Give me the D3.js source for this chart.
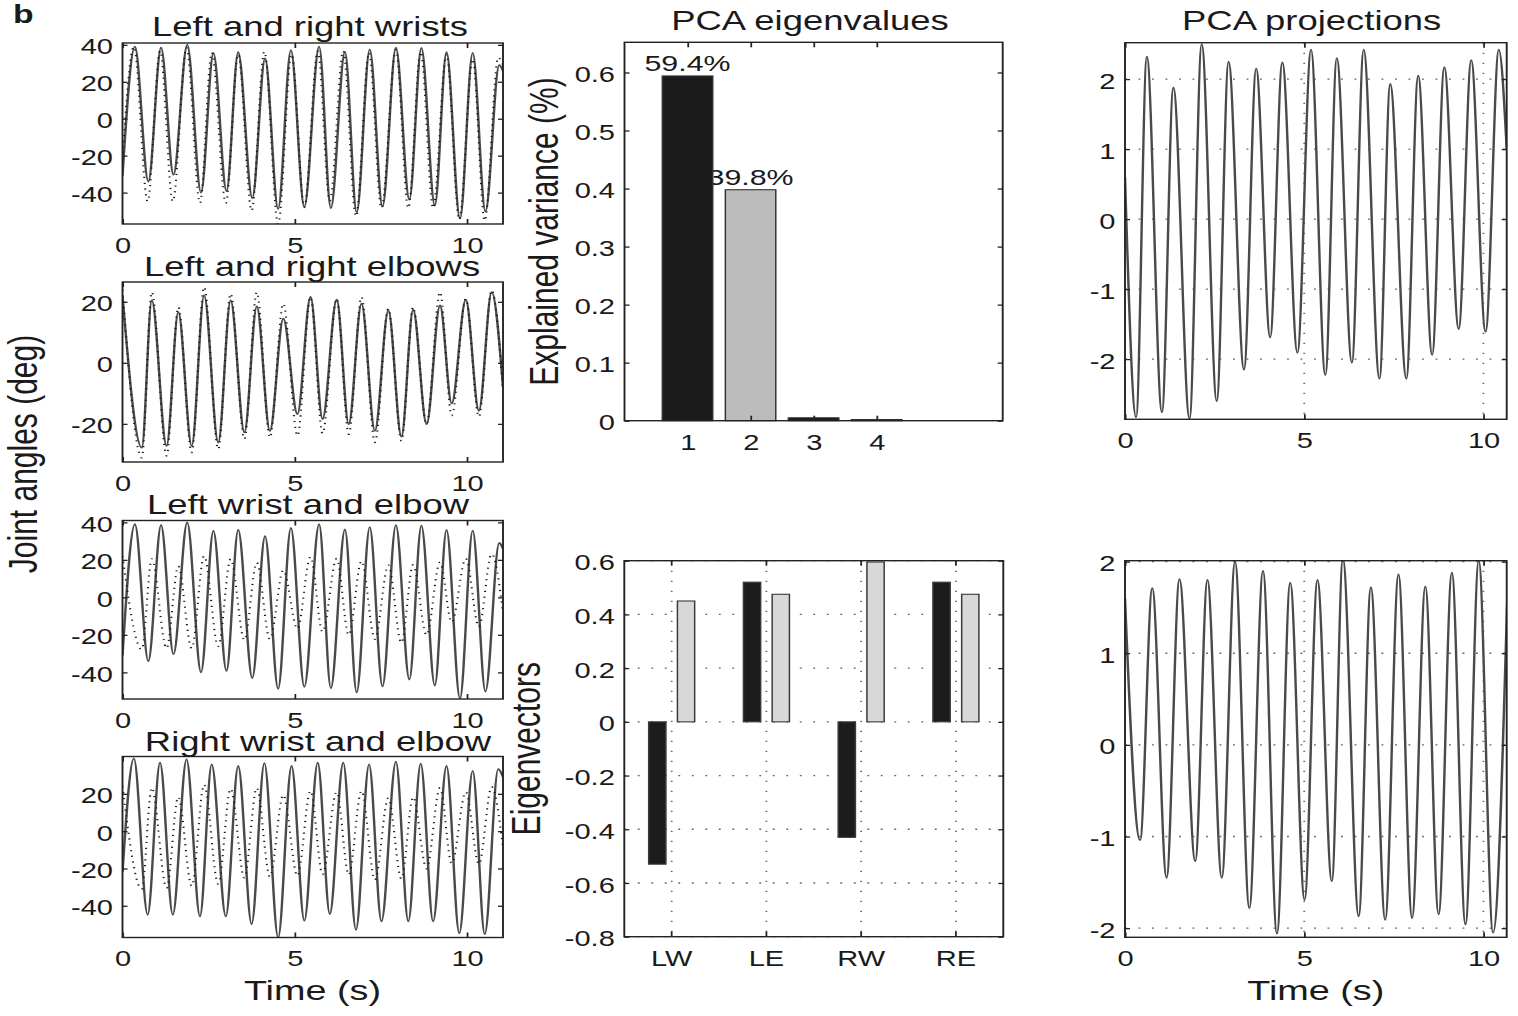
<!DOCTYPE html>
<html>
<head>
<meta charset="utf-8">
<title>Joint angles and PCA</title>
<script src="https://cdn.jsdelivr.net/npm/d3@7/dist/d3.min.js"></script>
<style>
	body { margin: 0; background: #fff; }
	svg { display: block; }
	text { font-family: "Liberation Sans", Arial, Helvetica, sans-serif; fill: #1a1a1a; }
</style>
</head>
<body>
<script>
// joint angles (deg), turning points: [time (s), angle]
var leftWrist = [[0, -31], [0.36, 39], [0.75, -34], [1.12, 38.5], [1.48, -30.3], [1.88, 40], [2.28, -40], [2.64, 35.5],
	[3.02, -39.2], [3.36, 36], [3.77, -43], [4.14, 32.6], [4.52, -48.8], [4.89, 37.1], [5.28, -47.7], [5.71, 39],
	[6.05, -48.4], [6.46, 36.2], [6.8, -50.7], [7.18, 37.5], [7.55, -47.5], [7.94, 38.5], [8.33, -43.8], [8.68, 38.3],
	[9.07, -47], [9.41, 36], [9.8, -54], [10.17, 35.6], [10.54, -50.2], [10.94, 29], [11.05, 26]];
var rightWrist = [[0, -22], [0.33, 39], [0.73, -44.8], [1.09, 36.7], [1.46, -44.8], [1.86, 38.5], [2.25, -45.7], [2.59, 35.8],
	[3.0, -45.7], [3.36, 34.9], [3.75, -49.8], [4.12, 36.4], [4.52, -57], [4.91, 34.9], [5.28, -48], [5.67, 36.7],
	[6.02, -44.4], [6.41, 36.7], [6.78, -52.9], [7.16, 35.8], [7.52, -48.4], [7.94, 37.3], [8.3, -48.4], [8.66, 36.2],
	[9.02, -48.4], [9.41, 34.9], [9.78, -54.7], [10.17, 32.3], [10.52, -55.2], [10.91, 33.2], [11.05, 29]];
var leftElbow = [[0, 22], [0.56, -27.8], [0.85, 20.5], [1.28, -27.2], [1.62, 16.6], [2.01, -27.2], [2.37, 22.1], [2.78, -26.1],
	[3.14, 20.5], [3.54, -22.8], [3.9, 18.5], [4.28, -22.3], [4.67, 14.5], [5.08, -16.8], [5.46, 21.6], [5.81, -18.4],
	[6.22, 20.7], [6.57, -20.1], [6.94, 19.4], [7.33, -22.3], [7.72, 17.2], [8.1, -24.2], [8.44, 17.4], [8.83, -20.1],
	[9.22, 18.8], [9.56, -13.3], [9.97, 20.7], [10.35, -15.7], [10.72, 23.2], [11.05, -8]];
var rightElbow = [[0, 24], [0.56, -31.1], [0.85, 23.2], [1.28, -30.5], [1.62, 18.3], [2.01, -29.4], [2.37, 24.9], [2.78, -28.3],
	[3.14, 22.7], [3.54, -25], [3.9, 23.2], [4.28, -24.5], [4.67, 19.4], [5.08, -23.9], [5.46, 21.6], [5.81, -23.2],
	[6.22, 21], [6.57, -23.4], [6.94, 21.6], [7.33, -26.1], [7.72, 17.8], [8.1, -25.6], [8.44, 18.3], [8.83, -20.1],
	[9.22, 23.2], [9.56, -17.3], [9.97, 21], [10.35, -17.7], [10.72, 23.8], [11.05, -9]];

// PCA
var pcaComponents = [1, 2, 3, 4];
var pcaExplained = [0.594, 0.398, 0.005, 0.002];
var jointNames = ["LW", "LE", "RW", "RE"];
var eigvec1 = [-0.53, 0.52, -0.43, 0.52];
var eigvec2 = [0.45, 0.475, 0.595, 0.475];
var projection1 = [[0, 0.6], [0.31, -2.83], [0.61, 2.32], [1.03, -2.76], [1.35, 1.88], [1.8, -2.85], [2.14, 2.5], [2.56, -2.6],
	[2.89, 2.25], [3.32, -2.15], [3.66, 2.15], [4.05, -1.69], [4.39, 2.24], [4.81, -1.91], [5.19, 2.42], [5.59, -2.23],
	[5.91, 2.3], [6.33, -2.05], [6.66, 2.42], [7.1, -2.28], [7.4, 1.93], [7.85, -2.28], [8.18, 2.05], [8.57, -1.94],
	[8.91, 2.17], [9.31, -1.57], [9.66, 2.27], [10.06, -1.61], [10.43, 2.42], [10.65, 1.0]];
var projection2 = [[0, 1.6], [0.42, -1.04], [0.76, 1.71], [1.16, -1.45], [1.52, 1.81], [1.96, -1.27], [2.3, 1.8], [2.7, -1.45],
	[3.07, 2.0], [3.47, -1.78], [3.85, 1.9], [4.24, -2.06], [4.61, 1.77], [5.01, -1.69], [5.37, 1.8], [5.77, -1.49],
	[6.08, 2.03], [6.52, -1.87], [6.86, 1.72], [7.26, -1.91], [7.63, 1.86], [8.01, -1.89], [8.38, 1.73], [8.75, -1.85],
	[9.12, 1.88], [9.5, -1.96], [9.87, 2.01], [10.27, -2.05], [10.66, 1.53]];

// ticks
var timeTicks = [0, 5, 10];
var pcaTicks = [0, 0.1, 0.2, 0.3, 0.4, 0.5, 0.6];
var eigTicks = [-0.8, -0.6, -0.4, -0.2, 0, 0.2, 0.4, 0.6];
var projTicks = [-2, -1, 0, 1, 2];

// the whole figure is stretched sideways, so draw in a narrower space and let the viewBox widen it
var SX = 1.35;
var W = 1518, H = 1016;
function px(v) { return v / SX; }

var svg = d3.select("body").append("svg")
	.attr("width", W).attr("height", H)
	.attr("viewBox", "0 0 " + px(W) + " " + H)
	.attr("preserveAspectRatio", "none");
var defs = svg.append("defs");

var fmt = function(d) { return String(d); };

function addClip(id, x, y) {
	defs.append("clipPath").attr("id", "clip_" + id).append("rect")
		.attr("x", x.range()[0]).attr("y", y.range()[1])
		.attr("width", x.range()[1] - x.range()[0]).attr("height", y.range()[0] - y.range()[1]);
	return "url(#clip_" + id + ")";
}

function addText(txt, x, y, size, opts) {
	opts = opts || {};
	var t = svg.append("text").text(txt).attr("font-size", size).attr("text-anchor", opts.anchor || "middle");
	if (opts.rotate) {
		t.attr("transform", "translate(" + px(x) + "," + y + ") rotate(-90)");
	} else {
		t.attr("x", px(x)).attr("y", y);
	}
	if (opts.bold) t.attr("font-weight", "bold");
	return t;
}

function drawAxes(g, x, y, xTicks, yTicks) {
	var tick = 5;
	var x0 = d3.min(x.range()), x1 = d3.max(x.range());
	var b = g.append("g").attr("transform", "translate(0," + y.range()[0] + ")")
		.call((xTicks ? d3.axisBottom(x).tickValues(xTicks) : d3.axisBottom(x)).tickSize(-tick).tickFormat(xTicks ? fmt : null));
	b.selectAll("text").attr("y", 29).attr("dy", null);
	g.append("g").attr("transform", "translate(0," + y.range()[1] + ")")
		.call((xTicks ? d3.axisTop(x).tickValues(xTicks) : d3.axisTop(x)).tickSize(-tick).tickFormat(""));
	var l = g.append("g").attr("transform", "translate(" + x0 + ",0)")
		.call(d3.axisLeft(y).tickValues(yTicks).tickSize(-px(tick)).tickFormat(fmt));
	l.selectAll("text").attr("x", -px(9.5)).attr("dy", "0.42em");
	g.append("g").attr("transform", "translate(" + x1 + ",0)")
		.call(d3.axisRight(y).tickValues(yTicks).tickSize(-px(tick)).tickFormat(""));
	g.selectAll(".domain").remove();
	g.selectAll(".tick line").attr("stroke", "#222").attr("stroke-width", 1.3);
	g.selectAll(".tick text").attr("font-size", 21.5).attr("fill", "#1a1a1a");
}

function drawFrame(g, x, y) {
	var x0 = d3.min(x.range()), x1 = d3.max(x.range());
	g.append("rect").attr("x", x0).attr("y", y.range()[1])
		.attr("width", x1 - x0).attr("height", y.range()[0] - y.range()[1])
		.attr("fill", "none").attr("stroke", "#222").attr("stroke-width", 1.4);
}

function gridLines(g, xs, ys, x, y) {
	var x0 = d3.min(x.range()), x1 = d3.max(x.range());
	var grid = g.append("g").attr("stroke", "#666").attr("stroke-width", 1.3).attr("stroke-dasharray", "1.4 8.6");
	grid.selectAll("line.h").data(ys).join("line").attr("class", "h")
		.attr("x1", x0).attr("x2", x1).attr("y1", function(d) { return y(d); }).attr("y2", function(d) { return y(d); });
	grid.selectAll("line.v").data(xs).join("line").attr("class", "v")
		.attr("x1", function(d) { return d; }).attr("x2", function(d) { return d; }).attr("y1", y.range()[1]).attr("y2", y.range()[0]);
}

// ---- joint angle panels (left column)
var leftPanels = [
	{ id: "wrists", title: "Left and right wrists", solid: leftWrist, dotted: rightWrist, yDomain: [-57, 41], yTicks: [-40, -20, 0, 20, 40], top: 43, bottom: 224, titleX: 310, titleY: 36.5 },
	{ id: "elbows", title: "Left and right elbows", solid: leftElbow, dotted: rightElbow, yDomain: [-32.5, 26.5], yTicks: [-20, 0, 20], top: 282, bottom: 462, titleX: 312, titleY: 276.5 },
	{ id: "leftside", title: "Left wrist and elbow", solid: leftWrist, dotted: leftElbow, yDomain: [-54.2, 41], yTicks: [-40, -20, 0, 20, 40], top: 520.5, bottom: 699, titleX: 308, titleY: 514 },
	{ id: "rightside", title: "Right wrist and elbow", solid: rightWrist, dotted: rightElbow, yDomain: [-57, 40], yTicks: [-40, -20, 0, 20], top: 756.5, bottom: 937.5, titleX: 318, titleY: 751.5 }
];

leftPanels.forEach(function(p) {
	var g = svg.append("g").attr("id", p.id);
	var x = d3.scaleLinear().domain([0, 11.05]).range([px(122.5), px(503)]);
	var y = d3.scaleLinear().domain(p.yDomain).range([p.bottom, p.top]);
	var line = d3.line().x(function(d) { return x(d[0]); }).y(function(d) { return y(d[1]); }).curve(d3.curveMonotoneX);
	var traces = g.append("g").attr("clip-path", addClip(p.id, x, y));
	traces.append("path").datum(p.solid).attr("d", line)
		.attr("fill", "none").attr("stroke", "#4a4a4a").attr("stroke-width", 1.8);
	traces.append("path").datum(p.dotted).attr("d", line)
		.attr("fill", "none").attr("stroke", "#1a1a1a").attr("stroke-width", 1.5).attr("stroke-dasharray", "1.2 4.6");
	drawAxes(g, x, y, timeTicks, p.yTicks);
	drawFrame(g, x, y);
	addText(p.title, p.titleX, p.titleY, 27);
});

addText("b", 13, 23, 25, { anchor: "start", bold: true });
addText("Joint angles (deg)", 37, 454, 30, { rotate: true });
addText("Time (s)", 312.5, 1000, 28);

// ---- PCA eigenvalues (middle top)
(function() {
	var g = svg.append("g").attr("id", "eigenvalues");
	var x = d3.scaleLinear().domain([0, 6]).range([px(624.5), px(1002.7)]);
	var y = d3.scaleLinear().domain([0, 0.652]).range([420.7, 42.3]);
	var fills = ["#1b1b1b", "#bcbcbc", "#1b1b1b", "#bcbcbc"];
	var rows = pcaComponents.map(function(c, i) { return { c: c, v: pcaExplained[i], fill: fills[i] }; });

	// labels go under the bars: bar 1 hides the edge of "39.8%"
	g.selectAll("text.pct").data(rows.filter(function(d) { return d.v > 0.05; })).join("text")
		.attr("class", "pct").attr("text-anchor", "middle").attr("font-size", 22.5)
		.attr("x", function(d) { return x(d.c); }).attr("y", function(d) { return y(d.v) - 5; })
		.text(function(d) { return (d.v * 100).toFixed(1) + "%"; });

	g.selectAll("rect.bar").data(rows).join("rect").attr("class", "bar")
		.attr("x", function(d) { return x(d.c - 0.4); })
		.attr("width", function(d) { return x(d.c + 0.4) - x(d.c - 0.4); })
		.attr("y", function(d) { return y(d.v); })
		.attr("height", function(d) { return y(0) - y(d.v); })
		.attr("fill", function(d) { return d.fill; }).attr("stroke", "#333").attr("stroke-width", 1.1);

	drawAxes(g, x, y, pcaComponents, pcaTicks);
	drawFrame(g, x, y);
	addText("PCA eigenvalues", 810, 30, 27);
	addText("Explained variance (%)", 558, 231.5, 30, { rotate: true });
})();

// ---- eigenvectors (middle bottom)
(function() {
	var g = svg.append("g").attr("id", "eigenvectors");
	var x = d3.scaleBand().domain(jointNames).range([px(624.3), px(1003.3)]);
	var xs = d3.scaleBand().domain(["pc1", "pc2"]).range([-px(23), px(23)]).paddingInner(0.4);
	var y = d3.scaleLinear().domain([-0.8, 0.6]).range([936.7, 560.7]);
	var fills = { pc1: "#1c1c1c", pc2: "#d8d8d8" };
	var rows = [];
	jointNames.forEach(function(n, i) {
		rows.push({ name: n, s: "pc1", v: eigvec1[i] });
		rows.push({ name: n, s: "pc2", v: eigvec2[i] });
	});
	var mid = function(n) { return x(n) + x.bandwidth() / 2; };

	gridLines(g, jointNames.map(mid), eigTicks, x, y);

	g.selectAll("rect.bar").data(rows).join("rect").attr("class", "bar")
		.attr("x", function(d) { return mid(d.name) + xs(d.s); })
		.attr("width", xs.bandwidth())
		.attr("y", function(d) { return y(Math.max(0, d.v)); })
		.attr("height", function(d) { return Math.abs(y(d.v) - y(0)); })
		.attr("fill", function(d) { return fills[d.s]; }).attr("stroke", "#3a3a3a").attr("stroke-width", 1.1);

	drawAxes(g, x, y, null, eigTicks);
	drawFrame(g, x, y);
	addText("Eigenvectors", 540, 748.7, 30, { rotate: true });
})();

// ---- PCA projections (right column)
var projPanels = [
	{ id: "proj1", data: projection1, yDomain: [-2.86, 2.52], top: 42.7, bottom: 419.3 },
	{ id: "proj2", data: projection2, yDomain: [-2.1, 2.01], top: 560.7, bottom: 937.3 }
];

projPanels.forEach(function(p) {
	var g = svg.append("g").attr("id", p.id);
	var x = d3.scaleLinear().domain([0, 10.65]).range([px(1125), px(1506.7)]);
	var y = d3.scaleLinear().domain(p.yDomain).range([p.bottom, p.top]);
	var line = d3.line().x(function(d) { return x(d[0]); }).y(function(d) { return y(d[1]); }).curve(d3.curveMonotoneX);
	gridLines(g, timeTicks.slice(1).map(x), projTicks, x, y);
	g.append("g").attr("clip-path", addClip(p.id, x, y))
		.append("path").datum(p.data).attr("d", line)
		.attr("fill", "none").attr("stroke", "#4a4a4a").attr("stroke-width", 1.8);
	drawAxes(g, x, y, timeTicks, projTicks);
	drawFrame(g, x, y);
});

addText("PCA projections", 1311.7, 30, 27);
addText("Time (s)", 1315.8, 1000, 28);
</script>
</body>
</html>
